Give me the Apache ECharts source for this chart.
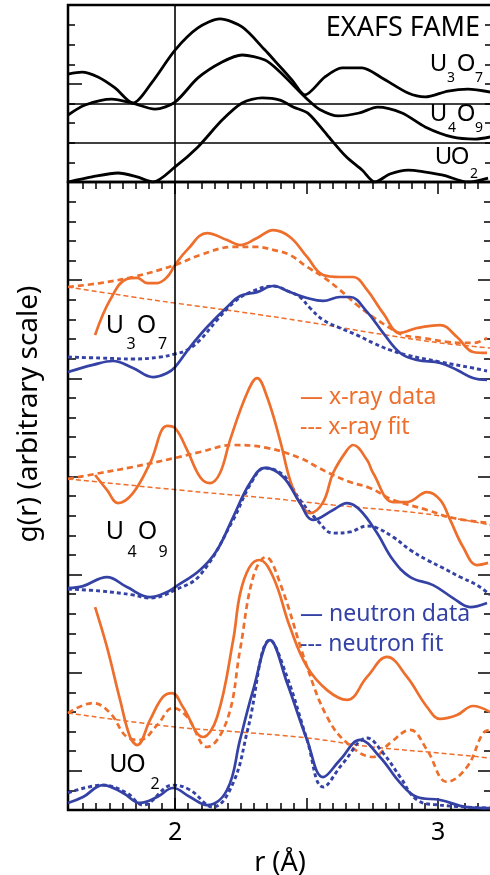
<!DOCTYPE html>
<html><head><meta charset="utf-8">
<script src="https://cdn.jsdelivr.net/npm/echarts@6/dist/echarts.min.js"></script>
<style>html,body{margin:0;padding:0;background:#fff}#c{width:490px;height:875px}</style>
</head><body><div id="c"></div><script>
// ---------- data (r in Å, g in arbitrary units = tick steps) ----------
// top panel: EXAFS FAME |FT|
const exafsU3O7 = [[1.593,5.51],[1.646,5.61],[1.707,5.36],[1.772,4.80],[1.840,4.03],[1.913,5.10],[2.000,6.73],[2.087,7.86],[2.171,8.32],[2.255,7.91],[2.342,6.73],[2.380,6.17],[2.445,5.20],[2.494,4.44],[2.570,5.36],[2.635,5.82],[2.711,5.82],[2.787,5.31],[2.886,4.54],[2.951,4.34],[3.038,4.64],[3.114,4.74],[3.198,4.59]];
const exafsU4O9 = [[1.593,3.42],[1.658,3.93],[1.760,4.23],[1.837,4.03],[1.924,3.72],[2.000,4.08],[2.087,5.31],[2.179,6.12],[2.255,6.48],[2.342,6.22],[2.399,5.61],[2.506,4.18],[2.550,3.70],[2.620,3.37],[2.700,3.52],[2.770,3.82],[2.863,3.52],[2.951,2.81],[3.053,2.30],[3.141,2.19],[3.198,2.30]];
const exafsUO2 = [[1.593,0.00],[1.684,0.26],[1.783,0.46],[1.856,0.26],[1.916,0.00],[2.000,0.77],[2.087,1.79],[2.179,3.16],[2.255,4.03],[2.331,4.29],[2.399,4.18],[2.449,3.83],[2.506,3.50],[2.578,2.40],[2.650,1.30],[2.711,0.61],[2.760,0.00],[2.817,0.41],[2.886,0.61],[3.015,0.36],[3.114,0.00],[3.190,0.20]];

// bottom panel: U3O7
const u3o7XrayData = [[1.696,24.20],[1.753,25.99],[1.817,27.06],[1.856,27.11],[1.894,26.85],[1.932,26.85],[1.970,27.16],[2.000,27.77],[2.046,28.54],[2.122,29.40],[2.198,29.04],[2.247,28.79],[2.312,29.15],[2.373,29.55],[2.437,29.20],[2.502,28.18],[2.563,27.26],[2.627,27.16],[2.677,27.16],[2.730,26.50],[2.791,25.32],[2.856,24.31],[2.920,24.56],[3.008,24.71],[3.072,24.10],[3.133,23.34],[3.186,23.29]];
const u3o7XrayFit = [[1.593,26.65],[1.715,26.85],[1.840,27.16],[2.000,27.77],[2.095,28.28],[2.221,28.69],[2.312,28.69],[2.373,28.54],[2.437,28.28],[2.502,27.67],[2.563,27.16],[2.627,26.50],[2.692,25.73],[2.753,25.12],[2.817,24.56],[2.867,24.20],[2.943,24.05],[3.034,23.85],[3.133,23.80],[3.186,24.05]];
const u3o7XrayBase = [[1.593,26.65],[1.840,26.14],[2.000,25.83],[2.247,25.38],[2.502,24.87],[2.753,24.31],[3.008,23.80],[3.198,23.54]];
const u3o7NeutronData = [[1.593,22.32],[1.688,22.68],[1.764,22.88],[1.840,22.52],[1.916,22.06],[1.970,22.27],[2.000,22.57],[2.057,23.59],[2.122,24.61],[2.198,25.63],[2.247,26.19],[2.312,26.39],[2.373,26.70],[2.437,26.39],[2.502,26.09],[2.563,25.94],[2.627,26.14],[2.665,26.14],[2.730,25.38],[2.791,24.31],[2.856,23.29],[2.920,22.93],[3.008,22.78],[3.072,22.42],[3.133,22.01],[3.186,21.91]];
const u3o7NeutronFit = [[1.593,23.08],[1.715,23.03],[1.840,22.98],[1.943,23.08],[2.000,23.24],[2.046,23.44],[2.095,23.95],[2.160,24.97],[2.221,25.83],[2.278,26.34],[2.373,26.70],[2.437,26.39],[2.475,26.14],[2.513,25.58],[2.563,24.97],[2.627,24.56],[2.692,24.20],[2.753,23.80],[2.817,23.44],[2.882,23.18],[3.008,22.83],[3.133,22.52],[3.186,22.37]];

// bottom panel: U4O9
const u4o9XrayData = [[1.696,17.07],[1.741,16.31],[1.783,15.64],[1.840,16.15],[1.905,17.68],[1.970,19.57],[2.000,19.46],[2.046,18.34],[2.095,16.97],[2.133,16.66],[2.171,17.17],[2.209,18.85],[2.274,21.25],[2.312,22.01],[2.350,21.04],[2.399,18.85],[2.437,16.82],[2.475,15.64],[2.513,15.13],[2.563,15.69],[2.601,17.17],[2.654,18.34],[2.677,18.60],[2.730,17.83],[2.753,17.17],[2.829,15.69],[2.882,15.69],[2.958,16.20],[3.008,15.80],[3.046,14.78],[3.095,13.40],[3.148,12.48],[3.190,12.59]];
const u4o9XrayFit = [[1.593,16.87],[1.715,17.17],[1.840,17.48],[2.000,17.94],[2.095,18.24],[2.221,18.60],[2.350,18.45],[2.475,17.94],[2.540,17.48],[2.601,17.07],[2.665,16.71],[2.741,16.41],[2.829,15.80],[2.958,15.29],[3.057,14.88],[3.198,14.62]];
const u4o9XrayBase = [[1.593,16.87],[2.095,16.20],[2.350,15.90],[2.601,15.54],[2.958,15.08],[3.198,14.52]];
const u4o9NeutronData = [[1.593,11.31],[1.650,11.41],[1.741,11.87],[1.817,11.36],[1.905,10.85],[1.970,11.11],[2.000,11.36],[2.095,12.23],[2.160,13.25],[2.221,14.93],[2.285,16.66],[2.342,17.43],[2.411,16.97],[2.475,15.64],[2.525,14.78],[2.601,15.29],[2.654,15.64],[2.703,15.29],[2.768,14.11],[2.829,12.74],[2.894,11.87],[2.981,11.46],[3.057,10.80],[3.122,10.34],[3.186,10.55]];
const u4o9NeutronFit = [[1.593,11.26],[1.715,11.16],[1.840,10.96],[1.905,10.80],[2.000,11.21],[2.095,11.97],[2.221,14.78],[2.285,16.56],[2.342,17.43],[2.411,17.07],[2.475,15.80],[2.540,14.78],[2.601,14.11],[2.665,14.17],[2.730,14.47],[2.768,14.37],[2.829,13.91],[2.894,13.25],[2.958,12.74],[3.019,12.33],[3.084,11.87],[3.148,11.46],[3.198,10.96]];

// bottom panel: UO2
const uo2XrayData = [[1.696,10.34],[1.741,8.31],[1.791,5.61],[1.829,3.72],[1.856,3.31],[1.905,4.59],[1.954,5.76],[1.989,5.96],[2.030,5.25],[2.106,3.72],[2.160,4.74],[2.221,8.66],[2.247,11.00],[2.282,12.35],[2.320,12.74],[2.373,11.87],[2.437,9.32],[2.502,7.29],[2.578,6.11],[2.654,5.61],[2.730,6.78],[2.806,7.80],[2.882,6.78],[2.958,5.25],[3.008,4.64],[3.072,4.84],[3.133,5.30],[3.198,4.99]];
const uo2XrayFit = [[1.593,4.94],[1.688,5.45],[1.753,4.94],[1.817,3.72],[1.867,3.57],[1.932,4.33],[1.992,5.20],[2.046,4.74],[2.122,3.21],[2.198,4.59],[2.247,8.15],[2.297,11.87],[2.345,12.89],[2.399,11.57],[2.502,7.29],[2.578,4.74],[2.654,3.41],[2.753,2.70],[2.817,3.41],[2.894,4.08],[2.958,3.06],[3.034,1.43],[3.110,2.19],[3.171,3.92],[3.198,4.08]];
const uo2XrayBase = [[1.593,4.94],[2.000,4.23],[2.247,3.97],[2.502,3.67],[2.753,3.21],[3.008,2.90],[3.198,2.65]];
const uo2NeutronData = [[1.593,0.36],[1.650,0.66],[1.726,1.27],[1.802,0.87],[1.867,0.36],[1.932,0.66],[1.992,1.12],[2.057,0.66],[2.122,0.25],[2.198,1.02],[2.247,3.57],[2.297,6.11],[2.361,8.66],[2.426,6.47],[2.502,3.57],[2.563,1.68],[2.627,2.55],[2.703,3.57],[2.779,2.70],[2.856,1.38],[2.920,0.66],[3.008,0.51],[3.110,0.15],[3.198,0.10]];
const uo2NeutronFit = [[1.593,0.87],[1.726,1.27],[1.817,0.87],[1.878,0.25],[1.992,1.27],[2.057,1.02],[2.144,0.15],[2.221,1.38],[2.278,4.20],[2.361,8.66],[2.426,6.78],[2.502,3.57],[2.563,1.17],[2.639,2.39],[2.730,3.67],[2.791,2.90],[2.856,1.68],[2.920,0.51],[3.008,0.25],[3.198,0.10]];

// axes
const xTickLabels = [2, 3];
const xMajorTicks = [2, 2.5, 3];
const yTopMajorTicks = [5];
const yBottomMajorTicks = [2, 7, 12, 17, 22, 27];
const topBaselines = [2, 4];
const legendTexts = ['— x-ray data', '--- x-ray fit', '— neutron data', '--- neutron fit'];

// ---------- layout / style ----------
const X_MIN = 1.593, X_MAX = 3.205;
const TOP_MAX = 177 / 19.6, BOT_MAX = 32;
const ORANGE = '#EE6E2C', BLUE = '#3441A5';
const FONT = '"Noto Sans", "Open Sans", sans-serif';

const xMinorTicks = []; for (let i = 33; i <= 64; i++) xMinorTicks.push(+(i * 0.05).toFixed(2));
const yTopMinor = []; for (let i = 1; i <= 8; i++) yTopMinor.push(i);
const yBotMinor = []; for (let i = 1; i <= 31; i++) yBotMinor.push(i);

function xAx(grid, pos, ticks, len, labels) {
  return {type:'value', gridIndex:grid, position:pos, min:X_MIN, max:X_MAX,
    axisLine:{show:false}, splitLine:{show:false},
    axisTick:{show:true, inside:true, length:len, customValues:ticks, lineStyle:{color:'#000', width:1.5}},
    axisLabel: labels ? {show:true, customValues:labels, fontSize:25, color:'#000', fontFamily:FONT, margin:10, formatter:v=>String(v)} : {show:false}};
}
function yAx(grid, pos, max, ticks, len) {
  return {type:'value', gridIndex:grid, position:pos, min:0, max:max,
    axisLine:{show:false}, splitLine:{show:false}, axisLabel:{show:false},
    axisTick:{show:true, inside:true, length:len, customValues:ticks, lineStyle:{color:'#000', width:1.5}}};
}
const xAxis = [
  xAx(0, 'top', xMinorTicks, 7), xAx(0, 'top', xMajorTicks, 12),
  Object.assign(xAx(1, 'bottom', xMinorTicks, 7, xTickLabels), {name:'r (Å)', nameLocation:'middle', nameGap:33, nameTextStyle:{fontSize:27, color:'#000', fontFamily:FONT}}),
  xAx(1, 'bottom', xMajorTicks, 12)
];
const yAxis = [
  yAx(0, 'left', TOP_MAX, yTopMinor, 7), yAx(0, 'left', TOP_MAX, yTopMajorTicks, 14), yAx(0, 'right', TOP_MAX, yTopMinor, 7),
  yAx(1, 'left', BOT_MAX, yBotMinor, 8), yAx(1, 'left', BOT_MAX, yBottomMajorTicks, 14),
  yAx(1, 'right', BOT_MAX, yBotMinor, 8), yAx(1, 'right', BOT_MAX, yBottomMajorTicks, 14)
];

const STYLES = {
  black:{w:2.8, t:'solid'}, solid:{w:2.7, t:'solid'}, fit:{w:2.7, t:[6,4]},
  nfit:{w:2.9, t:[4,3]}, base:{w:1.5, t:[5,3]}
};
function curve(data, bottom, color, style, z) {
  const s = STYLES[style];
  return {type:'line', xAxisIndex: bottom ? 2 : 0, yAxisIndex: bottom ? 3 : 0, data,
    showSymbol:false, symbol:'none', smooth: bottom ? 0.4 : 0.28, silent:true, z:z||2,
    lineStyle:{color, width:s.w, type:s.t, cap:'butt'}};
}
const vline = {silent:true, symbol:'none', label:{show:false}, animation:false,
  lineStyle:{color:'#000', width:1.6, type:'solid'}};

const series = [
  Object.assign(curve(exafsU3O7, false, '#000', 'black'), {markLine:Object.assign({}, vline, {data:[{xAxis:2}].concat(topBaselines.map(v=>({yAxis:v})))})}),
  curve(exafsU4O9, false, '#000', 'black'),
  curve(exafsUO2, false, '#000', 'black'),

  Object.assign(curve(u3o7XrayBase, true, ORANGE, 'base'), {markLine:Object.assign({}, vline, {data:[{xAxis:2}]})}),
  curve(u3o7XrayFit, true, ORANGE, 'fit'),
  curve(u3o7XrayData, true, ORANGE, 'solid', 3),
  curve(u3o7NeutronFit, true, BLUE, 'nfit'),
  curve(u3o7NeutronData, true, BLUE, 'solid', 3),

  curve(u4o9XrayBase, true, ORANGE, 'base'),
  curve(u4o9XrayFit, true, ORANGE, 'fit'),
  curve(u4o9XrayData, true, ORANGE, 'solid', 3),
  curve(u4o9NeutronFit, true, BLUE, 'nfit'),
  curve(u4o9NeutronData, true, BLUE, 'solid', 3),

  curve(uo2XrayBase, true, ORANGE, 'base'),
  curve(uo2XrayFit, true, ORANGE, 'fit'),
  curve(uo2XrayData, true, ORANGE, 'solid', 3),
  curve(uo2NeutronFit, true, BLUE, 'nfit'),
  curve(uo2NeutronData, true, BLUE, 'solid', 3)
];

function T(text, x, y, size, color, align, rot) {
  return {type:'text', x, y, rotation: rot || 0, z:10, silent:true,
    style:{text, fill:color||'#000', font: size + 'px ' + FONT, fontSize:size, fontFamily:FONT,
      textAlign:align||'center', align:align||'center', textVerticalAlign:'middle', verticalAlign:'middle'}};
}
// formula labels placed glyph by glyph (main letters + subscripts)
function formula(parts, big, small) {
  return parts.map(p => T(p[0], p[1], p[2], p[3] ? small : big, '#000', 'center'));
}
const graphic = [].concat(
  [T('EXAFS FAME', 480, 28, 27, '#000', 'right')],
  formula([['U',438.5,64],['3',451,78,1],['O',466,64],['7',479,78,1]], 24, 14),
  formula([['U',438.5,114],['4',452,128,1],['O',466,114],['9',479,128,1]], 24, 14),
  formula([['U',443.5,157.5],['O',460,157.5],['2',474,174,1]], 24, 14),
  formula([['U',115,326],['3',131,344,1],['O',146.5,326],['7',162.5,344,1]], 25, 16),
  formula([['U',115,532],['4',132,552,1],['O',147.5,532],['9',163,552,1]], 25, 16),
  formula([['U',118.5,765],['O',136,765],['2',155,784,1]], 25, 16),
  [T(legendTexts[0], 300, 397, 23, ORANGE, 'left'), T(legendTexts[1], 300, 427, 23, ORANGE, 'left'),
   T(legendTexts[2], 300, 614, 23, BLUE, 'left'), T(legendTexts[3], 300, 644, 23, BLUE, 'left'),
   T('g(r) (arbitrary scale)', 29, 414, 28, '#000', 'center', Math.PI / 2)]
);

const chart = echarts.init(document.getElementById('c'), null, {renderer:'canvas'});
chart.setOption({
  backgroundColor:'#fff', animation:false,
  grid:[
    {left:68, top:5, width:424, height:177, show:true, borderColor:'#000', borderWidth:2.5, containLabel:false, outerBoundsMode:'none'},
    {left:68, top:182, width:424, height:628, show:true, borderColor:'#000', borderWidth:2.5, containLabel:false, outerBoundsMode:'none'}
  ],
  xAxis, yAxis, series, graphic
});
</script></body></html>
